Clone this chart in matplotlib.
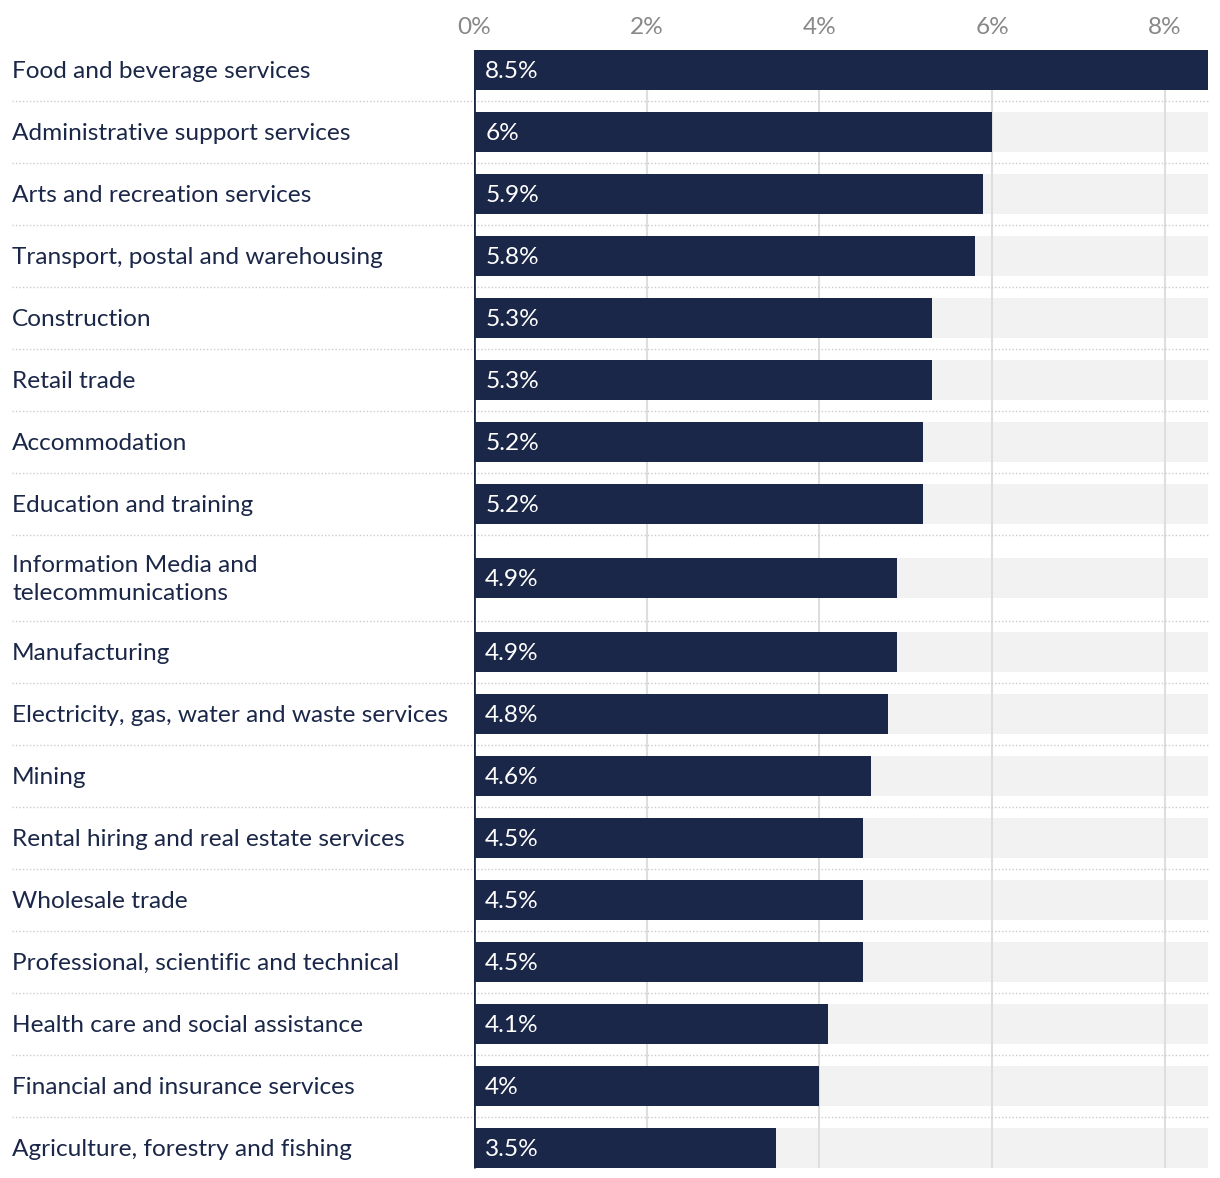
import matplotlib.pyplot as plt
from matplotlib.transforms import blended_transform_factory

categories = [
    "Food and beverage services",
    "Administrative support services",
    "Arts and recreation services",
    "Transport, postal and warehousing",
    "Construction",
    "Retail trade",
    "Accommodation",
    "Education and training",
    "Information Media and\ntelecommunications",
    "Manufacturing",
    "Electricity, gas, water and waste services",
    "Mining",
    "Rental hiring and real estate services",
    "Wholesale trade",
    "Professional, scientific and technical",
    "Health care and social assistance",
    "Financial and insurance services",
    "Agriculture, forestry and fishing",
]
values = [8.5, 6, 5.9, 5.8, 5.3, 5.3, 5.2, 5.2, 4.9, 4.9, 4.8, 4.6, 4.5, 4.5, 4.5, 4.1, 4, 3.5]
value_labels = ["8.5%", "6%", "5.9%", "5.8%", "5.3%", "5.3%", "5.2%", "5.2%", "4.9%", "4.9%",
                "4.8%", "4.6%", "4.5%", "4.5%", "4.5%", "4.1%", "4%", "3.5%"]
ticks = [0, 2, 4, 6, 8]
tick_labels = ["0%", "2%", "4%", "6%", "8%"]

navy = "#1b2748"
xmax = 8.5
plt.rcParams["font.family"] = ["Lato", "DejaVu Sans"]
fs = 17.6

W, H = 1220, 1178
fig = plt.figure(figsize=(W / 100, H / 100), dpi=100)

# row bands in pixel units: 62 per line-row, two-line rows get 86
bands = [86 if "\n" in c else 62 for c in categories]
centers = []
pos = 0
for b in bands:
    centers.append(pos + b / 2)
    pos += b
total = pos
bar_h = 40

top_px = 39
ax = fig.add_axes([474 / W, 1 - (top_px + total) / H, 734 / W, total / H])
ax.set_xlim(0, xmax)
ax.set_ylim(total, 0)
for s in ax.spines.values():
    s.set_visible(False)
ax.set_yticks([])
ax.xaxis.tick_top()
ax.set_xticks(ticks)
ax.set_xticklabels(tick_labels)
ax.tick_params(axis="x", length=0, pad=1, labelsize=fs, labelcolor="#888888")

y0 = centers[0] - bar_h / 2
y1 = centers[-1] + bar_h / 2
ax.barh(centers, [xmax] * len(values), height=bar_h, color="#f2f2f2", zorder=1)
ax.vlines(ticks[1:], y0, y1, color="#dedede", lw=1.5, zorder=2)
ax.barh(centers, values, height=bar_h, color=navy, zorder=3)
ax.vlines(0, y0, y1, color=navy, lw=2, zorder=4)

tr = blended_transform_factory(fig.transFigure, ax.transData)
for i, (c, v, lab) in enumerate(zip(categories, values, value_labels)):
    ax.text(12 / W, centers[i] + 1.5, c, transform=tr, ha="left", va="center",
            fontsize=fs, color=navy, linespacing=1.45)
    ax.text(0.13, centers[i] + 1.5, lab, ha="left", va="center", fontsize=fs,
            color="white", zorder=5)
    if i < len(categories) - 1:
        yb = centers[i] + bands[i] / 2
        ax.plot([12 / W, 1208 / W], [yb, yb], transform=tr, color="#cccccc",
                lw=1, ls=(0, (1, 1.5)), clip_on=False, zorder=2.5)

fig.savefig("out.png", dpi=100)
